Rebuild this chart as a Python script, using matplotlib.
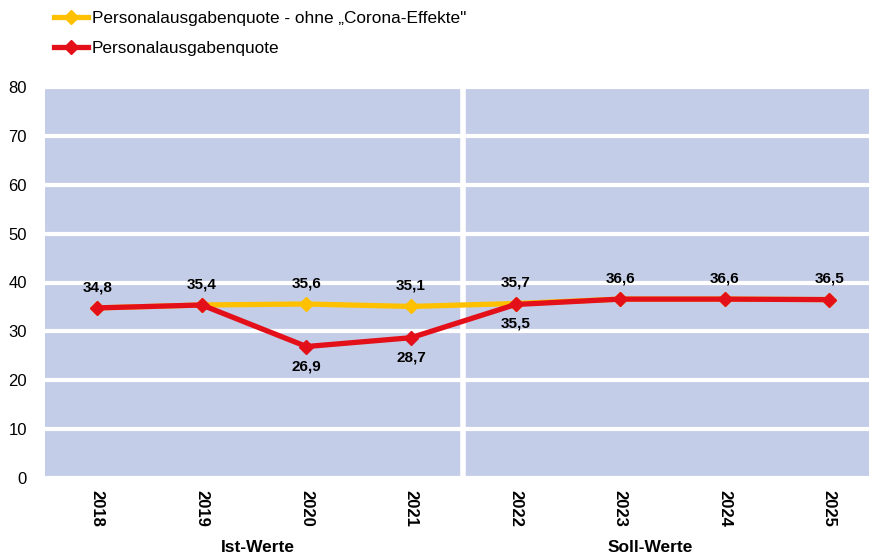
import matplotlib.pyplot as plt

plt.rcParams['font.family'] = ['Liberation Sans', 'DejaVu Sans']

years = ['2018', '2019', '2020', '2021', '2022', '2023', '2024', '2025']
ohne_corona = [34.8, 35.4, 35.6, 35.1, 35.7, 36.6, 36.6, 36.5]
quote = [34.8, 35.4, 26.9, 28.7, 35.5, 36.6, 36.6, 36.5]
labels_ohne = ['34,8', '35,4', '35,6', '35,1', '35,7', '36,6', '36,6', '36,5']
labels_quote = {2: '26,9', 3: '28,7', 4: '35,5'}

yellow = '#FFC000'
red = '#E3101A'

fig = plt.figure(figsize=(8.7, 5.55), dpi=100)
ax = fig.add_axes([45 / 870, 1 - 478 / 555, 1 - 45 / 870, 391 / 555])
ax.set_facecolor('#C4CDE8')

x = list(range(len(years)))
ax.plot(x, ohne_corona, color=yellow, lw=3.8, marker='D', ms=7,
        label='Personalausgabenquote - ohne \u201eCorona-Effekte"', zorder=3)
ax.plot(x, quote, color=red, lw=3.8, marker='D', ms=7,
        label='Personalausgabenquote', zorder=4)

for i, t in enumerate(labels_ohne):
    ax.annotate(t, (i, ohne_corona[i]), xytext=(0, 10), textcoords='offset points',
                ha='center', va='bottom', fontsize=11, fontweight='bold')
for i, t in labels_quote.items():
    ax.annotate(t, (i, quote[i]), xytext=(0, -9), textcoords='offset points',
                ha='center', va='top', fontsize=11, fontweight='bold')

ax.set_ylim(0, 80)
ax.set_yticks(range(0, 81, 10))
ax.set_xlim(-0.5, 7.39)
ax.set_xticks(x)
ax.set_xticklabels(years, rotation=270, fontweight='bold', fontsize=12)
ax.tick_params(axis='y', labelsize=12, length=0, pad=13)
ax.tick_params(axis='x', length=0, pad=9)
for s in ax.spines.values():
    s.set_visible(False)
ax.grid(axis='y', color='white', lw=3)
ax.set_axisbelow(True)
ax.axvline(3.5, color='white', lw=4, zorder=2)

fig.text(258 / 870, 1 - 547 / 555, 'Ist-Werte', ha='center', va='center',
         fontsize=12.5, fontweight='bold')
fig.text(650 / 870, 1 - 547 / 555, 'Soll-Werte', ha='center', va='center',
         fontsize=12.5, fontweight='bold')

fig.legend(loc='upper left', bbox_to_anchor=(54 / 870, 1 - 11 / 555), frameon=False,
           fontsize=12.4, handlelength=1.95, handletextpad=0.25, labelspacing=0.85,
           borderaxespad=0, borderpad=0)

fig.savefig('out.png', dpi=100)
